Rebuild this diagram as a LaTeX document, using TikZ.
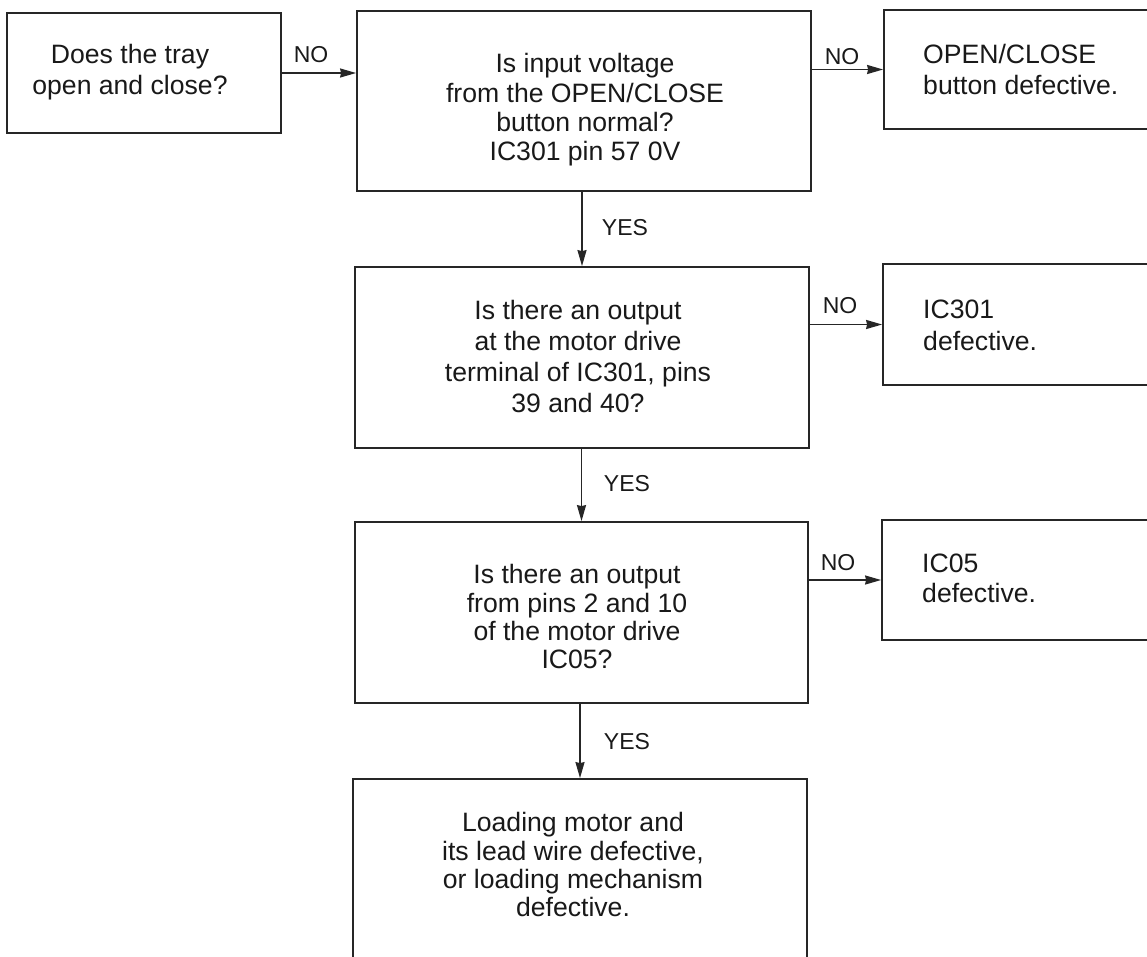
\documentclass[tikz,border=0pt]{standalone}
\usepackage{fontspec}
\setmainfont{Liberation Sans}
\usetikzlibrary{arrows.meta}
\tikzset{
  box/.style={draw=black!85, line width=1.8pt, rectangle, inner sep=0pt},
  boxtext/.style={inner sep=0pt, align=center, text=black!90, font=\fontsize{26.6}{29.3}\selectfont},
  lefttext/.style={inner sep=0pt, align=left, anchor=west, text=black!90, font=\fontsize{26.6}{31}\selectfont},
  lbl/.style={inner sep=0pt, anchor=base, text=black!90, font=\fontsize{23}{26}\selectfont},
  conn/.style={draw=black!85, line width=1.6pt, -{Stealth[length=16pt,width=9pt,inset=1pt]}}
}
\begin{document}
\begin{tikzpicture}[x=1pt,y=-1pt]
\useasboundingbox (0,0) rectangle (1147,956);
\clip (0,0) rectangle (1147,956);
\fill[white] (0,0) rectangle (1147,956);
% boxes
\node[box, minimum width=274pt, minimum height=120pt] (b1) at (144,73) {};
\node[box, minimum width=454pt, minimum height=180pt] (b2) at (584,101) {};
\node[box, minimum width=286pt, minimum height=119pt] (b3) at (1027,69.5) {};
\node[box, minimum width=454pt, minimum height=181pt] (b4) at (582,357.5) {};
\node[box, minimum width=287pt, minimum height=121pt] (b5) at (1026.5,324.5) {};
\node[box, minimum width=453pt, minimum height=181pt] (b6) at (581.5,612.5) {};
\node[box, minimum width=288pt, minimum height=120pt] (b7) at (1026,580) {};
\node[box, minimum width=454pt, minimum height=196pt] (b8) at (580,877) {};
% texts
\node[boxtext, font=\fontsize{26.6}{31}\selectfont] (t1) at (130,72.5) {Does the tray\\open and close?};
\node[boxtext] (t2) at (585,110) {Is input voltage\\from the OPEN/CLOSE\\button normal?\\IC301 pin 57 0V};
\node[lefttext] (t3) at (923,69) {OPEN/CLOSE\\button defective.};
\node[boxtext, font=\fontsize{26.6}{31}\selectfont] (t4) at (578,356.5) {Is there an output\\at the motor drive\\terminal of IC301, pins\\39 and 40?};
\node[lefttext, font=\fontsize{26.6}{32}\selectfont] (t5) at (923,325.5) {IC301\\defective.};
\node[boxtext, font=\fontsize{26.6}{28.3}\selectfont] (t6) at (577,616.7) {Is there an output\\from pins 2 and 10\\of the motor drive\\IC05?};
\node[lefttext, font=\fontsize{26.6}{30}\selectfont] (t7) at (922,578.5) {IC05\\defective.};
\node[boxtext, font=\fontsize{26.6}{28.3}\selectfont] (t8) at (573,864.8) {Loading motor and\\its lead wire defective,\\or loading mechanism\\defective.};
% connectors
\draw[conn] (b1.east) -- (b1.east -| b2.west);
\draw[conn] (b2.east |- b3.west) -- (b3.west);
\draw[conn] (b4.east |- b5.west) -- (b5.west);
\draw[conn] (b6.east |- b7.west) -- (b7.west);
\draw[conn] (b4.north |- b2.south) -- (b4.north);
\draw[conn] (b6.north |- b4.south) -- (b6.north);
\draw[conn] (b8.north |- b6.south) -- (b8.north);
% labels
\node[lbl] (n1) at (311,62) {NO};
\node[lbl] (n2) at (842,64) {NO};
\node[lbl] (n3) at (840,313) {NO};
\node[lbl] (n4) at (838,570) {NO};
\node[lbl] (y1) at (625,235) {YES};
\node[lbl] (y2) at (627,491) {YES};
\node[lbl] (y3) at (627,749) {YES};
\end{tikzpicture}
\end{document}
